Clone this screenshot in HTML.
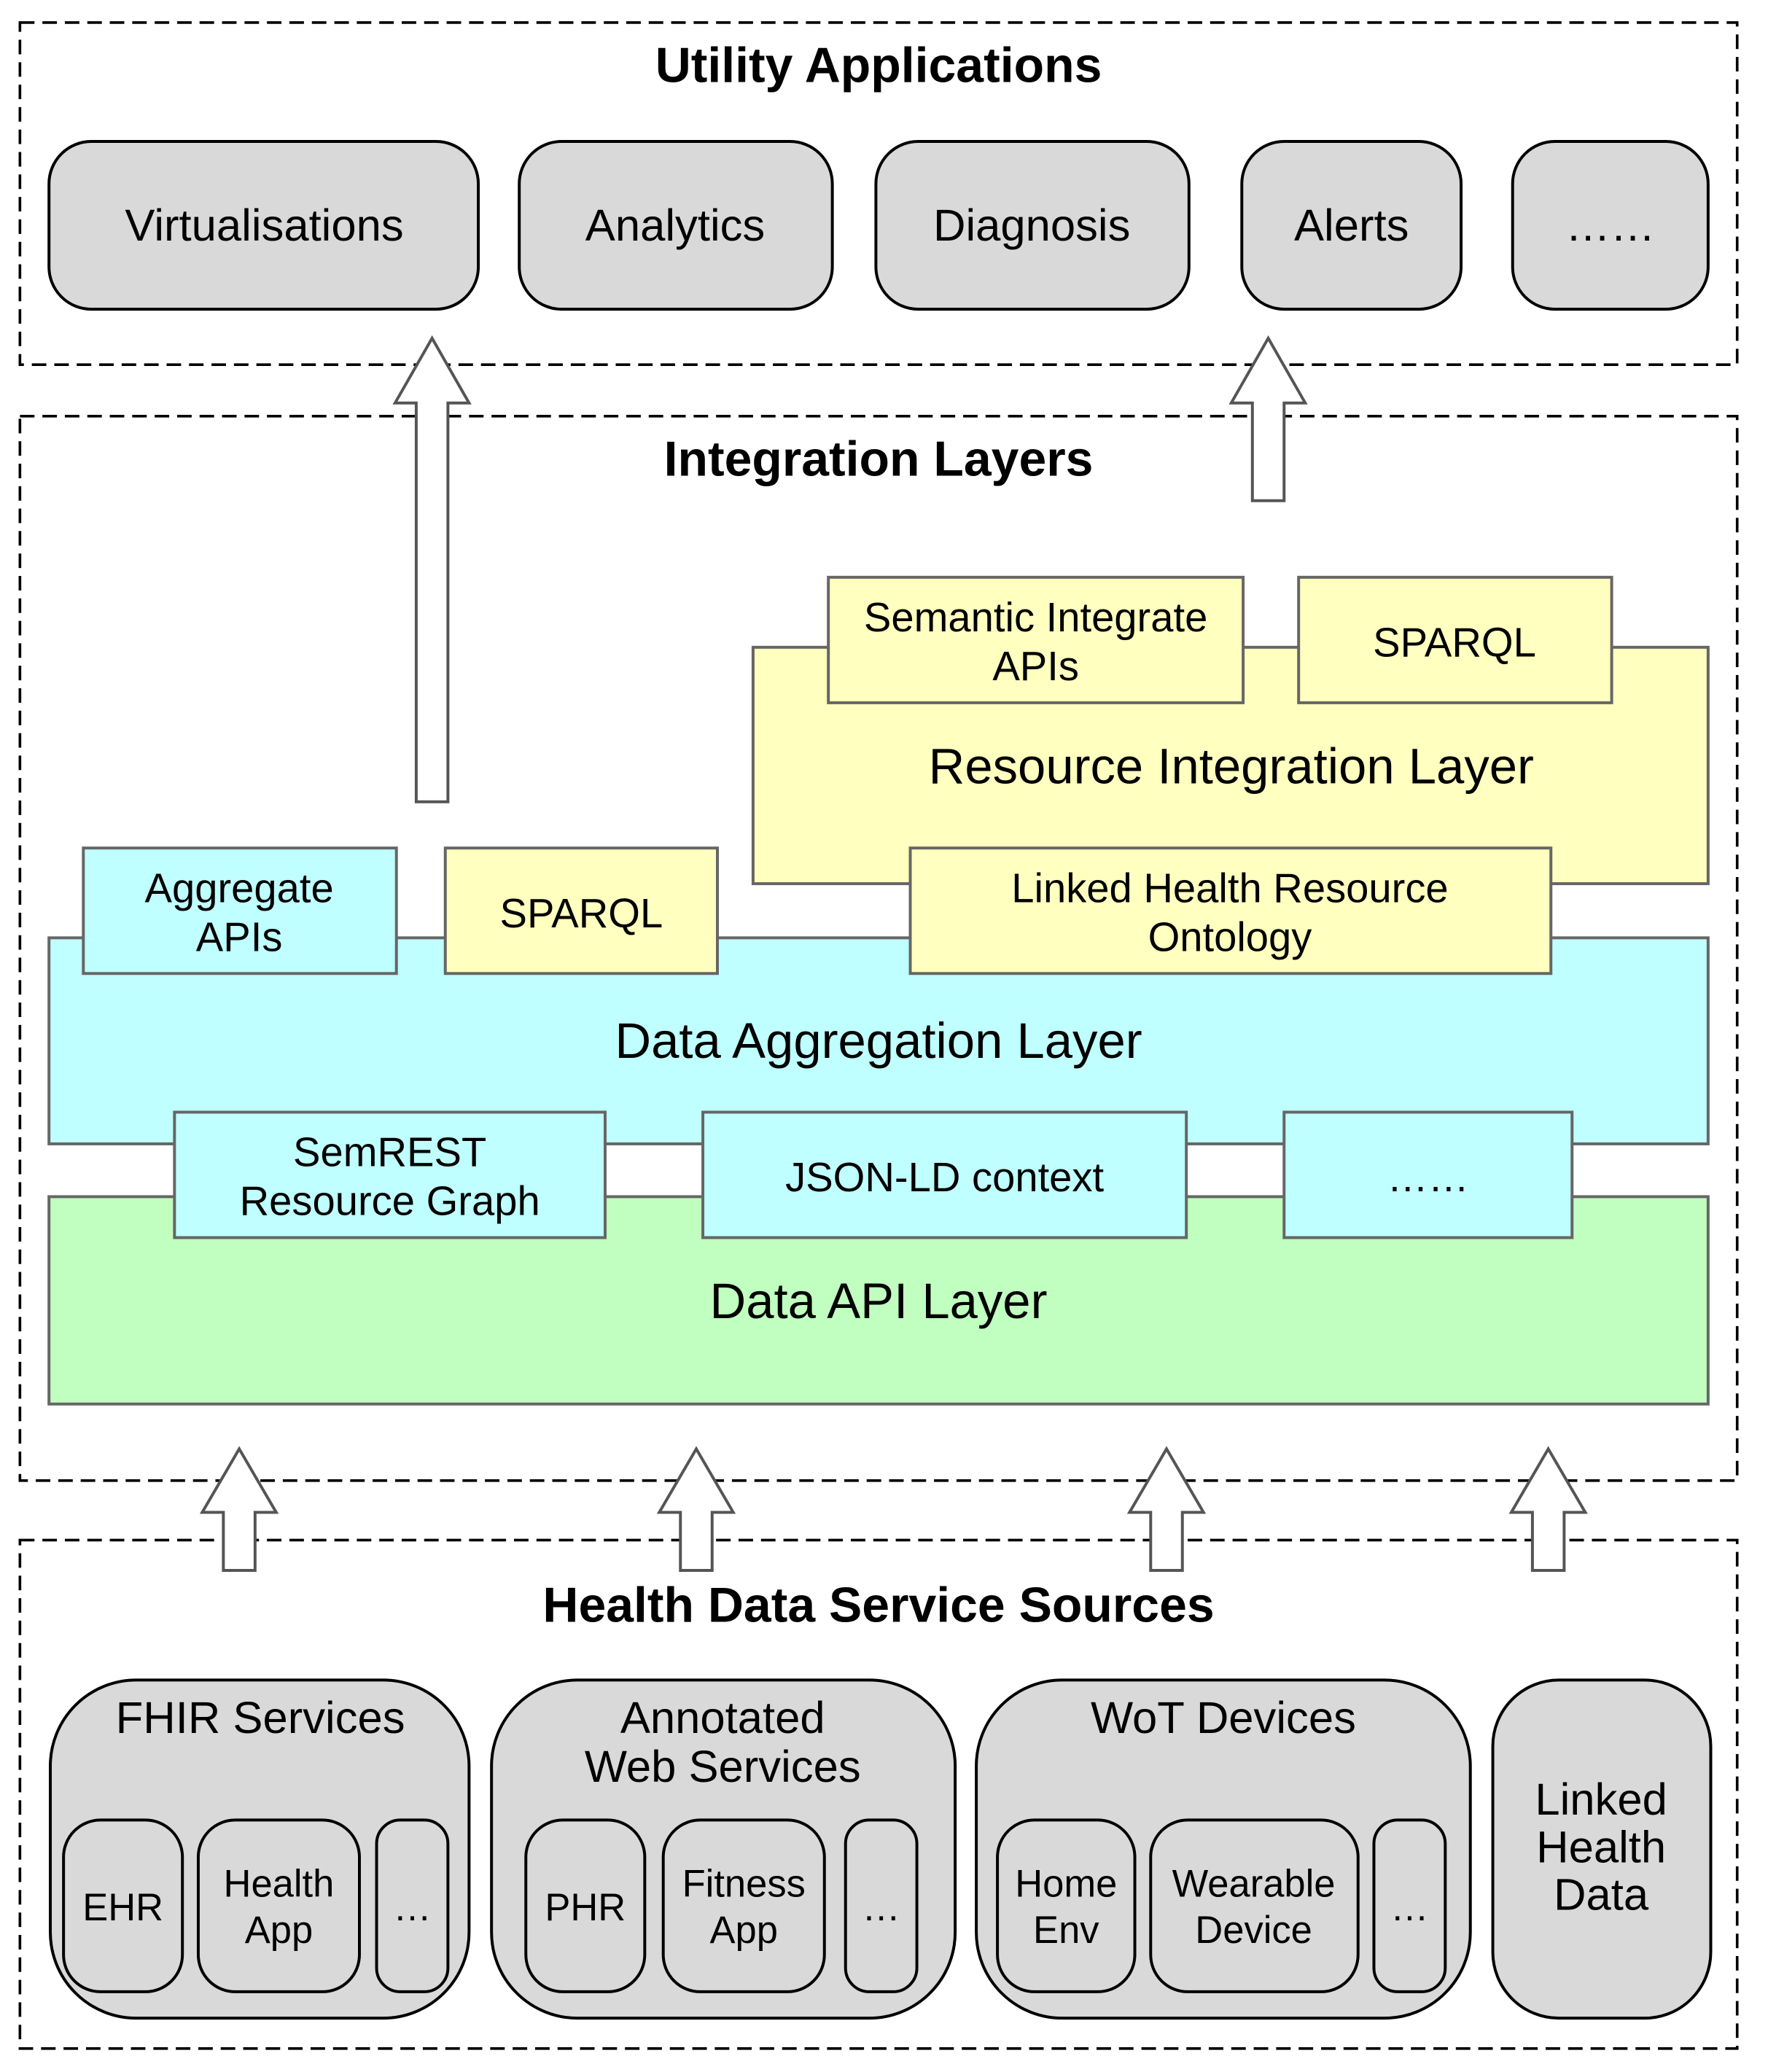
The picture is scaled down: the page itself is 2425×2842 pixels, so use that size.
<!DOCTYPE html>
<html><head><meta charset="utf-8"><style>html,body{margin:0;padding:0;background:#fff}svg{display:block}text{font-family:"Liberation Sans",Arial,sans-serif;text-anchor:middle}</style></head>
<body>
<svg width="2425" height="2842" viewBox="0 0 1330 1559" preserveAspectRatio="none" xmlns="http://www.w3.org/2000/svg">
<g transform="translate(15,17) scale(0.9937) translate(-15,-17)">
<g fill="none" stroke="#000" stroke-width="2" stroke-dasharray="11,6">
<rect x="15" y="17" width="1300" height="259"/>
<rect x="15" y="315" width="1300" height="806"/>
<rect x="15" y="1166" width="1300" height="385"/>
</g>
<g font-weight="bold" font-size="37.5">
<text x="665" y="62">Utility Applications</text>
<text x="665" y="360">Integration Layers</text>
<text x="665" y="1228">Health Data Service Sources</text>
</g>
<g fill="#d9d9d9" stroke="#000" stroke-width="2.2">
<rect x="37" y="107" width="325" height="127" rx="32"/>
<rect x="393" y="107" width="237" height="127" rx="32"/>
<rect x="663" y="107" width="237" height="127" rx="32"/>
<rect x="940" y="107" width="166" height="127" rx="32"/>
<rect x="1145" y="107" width="148" height="127" rx="32"/>
</g>
<g font-size="34">
<text x="200" y="182">Virtualisations</text>
<text x="511" y="182">Analytics</text>
<text x="781" y="182">Diagnosis</text>
<text x="1023" y="182">Alerts</text>
<text x="1219" y="182">……</text>
</g>
<g stroke="#666" stroke-width="2.2">
<rect x="570" y="490" width="723" height="179" fill="#ffffc0"/>
<rect x="37" y="710" width="1256" height="156" fill="#c0ffff"/>
<rect x="37" y="906" width="1256" height="157" fill="#c0ffc0"/>
<rect x="627" y="437" width="314" height="95" fill="#ffffc0"/>
<rect x="983" y="437" width="237" height="95" fill="#ffffc0"/>
<rect x="689" y="642" width="485" height="95" fill="#ffffc0"/>
<rect x="63" y="642" width="237" height="95" fill="#c0ffff"/>
<rect x="337" y="642" width="206" height="95" fill="#ffffc0"/>
<rect x="132" y="842" width="326" height="95" fill="#c0ffff"/>
<rect x="532" y="842" width="366" height="95" fill="#c0ffff"/>
<rect x="972" y="842" width="218" height="95" fill="#c0ffff"/>
</g>
<g font-size="38">
<text x="932" y="593">Resource Integration Layer</text>
<text x="665" y="801">Data Aggregation Layer</text>
<text x="665" y="998">Data API Layer</text>
</g>
<g font-size="31">
<text x="784" y="478">Semantic Integrate</text>
<text x="784" y="515">APIs</text>
<text x="1101" y="497">SPARQL</text>
<text x="931" y="683">Linked Health Resource</text>
<text x="931" y="720">Ontology</text>
<text x="181" y="683">Aggregate</text>
<text x="181" y="720">APIs</text>
<text x="440" y="702">SPARQL</text>
<text x="295" y="883">SemREST</text>
<text x="295" y="920">Resource Graph</text>
<text x="715" y="902">JSON-LD context</text>
<text x="1081" y="902">……</text>
</g>
<g fill="#fff" stroke="#555" stroke-width="2.2">
<polygon points="315,607 339,607 339,305 355,305 327,256 299,305 315,305"/>
<polygon points="948,379 972,379 972,305 988,305 960,256 932,305 948,305"/>
<polygon points="169,1189 193,1189 193,1145 209,1145 181,1097 153,1145 169,1145"/>
<polygon points="515,1189 539,1189 539,1145 555,1145 527,1097 499,1145 515,1145"/>
<polygon points="871,1189 895,1189 895,1145 911,1145 883,1097 855,1145 871,1145"/>
<polygon points="1160,1189 1184,1189 1184,1145 1200,1145 1172,1097 1144,1145 1160,1145"/>
</g>
<g fill="#d9d9d9" stroke="#000" stroke-width="2.2">
<rect x="38" y="1272" width="317" height="256" rx="65"/>
<rect x="372" y="1272" width="351" height="256" rx="65"/>
<rect x="739" y="1272" width="374" height="256" rx="65"/>
<rect x="1130" y="1272" width="165" height="256" rx="50"/>
<rect x="48" y="1378" width="90" height="130" rx="28"/>
<rect x="150" y="1378" width="122" height="130" rx="28"/>
<rect x="285" y="1378" width="54" height="130" rx="18"/>
<rect x="398" y="1378" width="90" height="130" rx="28"/>
<rect x="502" y="1378" width="122" height="130" rx="28"/>
<rect x="640" y="1378" width="54" height="130" rx="18"/>
<rect x="755" y="1378" width="104" height="130" rx="28"/>
<rect x="871" y="1378" width="157" height="130" rx="28"/>
<rect x="1040" y="1378" width="54" height="130" rx="18"/>
</g>
<g font-size="34">
<text x="197" y="1312">FHIR Services</text>
<text x="547" y="1312">Annotated</text>
<text x="547" y="1349">Web Services</text>
<text x="926" y="1312">WoT Devices</text>
<text x="1212" y="1374">Linked</text>
<text x="1212" y="1410">Health</text>
<text x="1212" y="1446">Data</text>
</g>
<g font-size="29">
<text x="93" y="1454">EHR</text>
<text x="211" y="1436">Health</text>
<text x="211" y="1471">App</text>
<text x="312" y="1454">…</text>
<text x="443" y="1454">PHR</text>
<text x="563" y="1436">Fitness</text>
<text x="563" y="1471">App</text>
<text x="667" y="1454">…</text>
<text x="807" y="1436">Home</text>
<text x="807" y="1471">Env</text>
<text x="949" y="1436">Wearable</text>
<text x="949" y="1471">Device</text>
<text x="1067" y="1454">…</text>
</g>
</g>
</svg>
</body></html>
